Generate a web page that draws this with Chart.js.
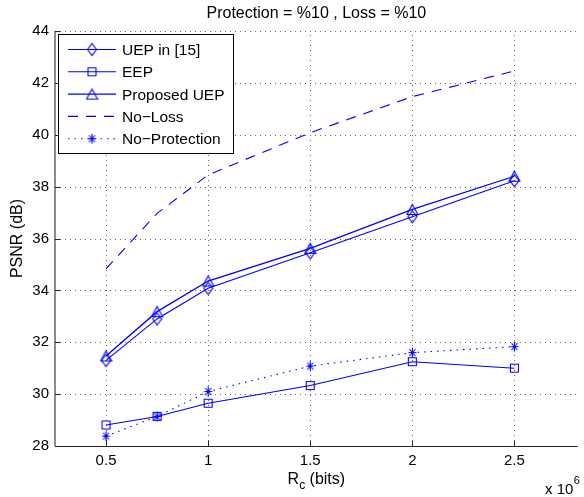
<!DOCTYPE html>
<html>
<head>
<meta charset="utf-8">
<title>PSNR vs Rc</title>
<script src="https://cdn.jsdelivr.net/npm/chart.js@4.4.1/dist/chart.umd.min.js"></script>
<style>
    html, body { margin: 0; padding: 0; background: #fff; }
    #wrap { position: relative; width: 584px; height: 497px; }
</style>
</head>
<body>
<div id="wrap"><canvas id="psnrChart" width="584" height="497"></canvas></div>
<script>
// Rc in units of 10^6 bits
var rcValues = [0.5, 0.75, 1, 1.5, 2, 2.5];

// PSNR (dB) per scheme
var uepRef15     = [31.30, 32.90, 34.08, 35.45, 36.84, 38.23];
var eep          = [28.81, 29.14, 29.65, 30.33, 31.25, 31.00];
var proposedUep  = [31.47, 33.18, 34.36, 35.62, 37.12, 38.40];
var noLoss       = [34.83, 36.97, 38.45, 40.08, 41.47, 42.46];
var noProtection = [28.38, 29.14, 30.10, 31.08, 31.60, 31.83];

var xTickValues = [0.5, 1, 1.5, 2, 2.5];
var yTickValues = [28, 30, 32, 34, 36, 38, 40, 42, 44];

var BLUE = '#0000ff';
var FONT = '"Liberation Sans", Arial, Helvetica, sans-serif';

// Small canvases used as point styles (matlab-like markers)
function makeMarker(kind) {
    var c = document.createElement('canvas');
    var ctx;
    if (kind === 'diamond') {
        c.width = 11; c.height = 15;
        ctx = c.getContext('2d');
        ctx.beginPath();
        ctx.moveTo(5.5, 1.5); ctx.lineTo(10, 7.5); ctx.lineTo(5.5, 13.5); ctx.lineTo(1, 7.5);
        ctx.closePath();
    } else if (kind === 'square') {
        c.width = 11; c.height = 11;
        ctx = c.getContext('2d');
        ctx.beginPath();
        ctx.rect(1.5, 1.5, 8, 8);
    } else if (kind === 'triangle') {
        c.width = 13; c.height = 13;
        ctx = c.getContext('2d');
        ctx.beginPath();
        ctx.moveTo(6.5, 1.5); ctx.lineTo(12, 11.5); ctx.lineTo(1, 11.5);
        ctx.closePath();
    } else {
        c.width = 11; c.height = 13;
        ctx = c.getContext('2d');
        ctx.beginPath();
        ctx.moveTo(1.5, 6.5); ctx.lineTo(9.5, 6.5);
        ctx.moveTo(5.5, 1.5); ctx.lineTo(5.5, 11.5);
        ctx.moveTo(2.5, 3); ctx.lineTo(8.5, 10);
        ctx.moveTo(8.5, 3); ctx.lineTo(2.5, 10);
    }
    ctx.strokeStyle = BLUE;
    ctx.lineWidth = 1.1;
    ctx.stroke();
    return c;
}

var markers = {
    diamond: makeMarker('diamond'),
    square: makeMarker('square'),
    triangle: makeMarker('triangle'),
    star: makeMarker('star')
};

function toPoints(values) {
    return rcValues.map(function(x, i) {
        return { x: x, y: values[i] };
    });
}

// Dotted grid, axes, tick marks and the text around the plot
var matlabFrame = {
    id: 'matlabFrame',
    beforeDatasetsDraw: function(chart) {
        var ctx = chart.ctx;
        var area = chart.chartArea;
        var xs = chart.scales.x;
        var ys = chart.scales.y;
        ctx.save();
        ctx.strokeStyle = '#666';
        ctx.lineWidth = 1;
        ctx.setLineDash([1, 4]);
        xTickValues.forEach(function(v) {
            var px = Math.round(xs.getPixelForValue(v)) + 0.5;
            ctx.beginPath();
            ctx.moveTo(px, area.bottom);
            ctx.lineTo(px, area.top);
            ctx.stroke();
        });
        yTickValues.forEach(function(v) {
            var py = Math.round(ys.getPixelForValue(v)) + 0.5;
            ctx.beginPath();
            ctx.moveTo(area.left, py);
            ctx.lineTo(area.right, py);
            ctx.stroke();
        });
        ctx.restore();
    },
    afterDatasetsDraw: function(chart) {
        var ctx = chart.ctx;
        var area = chart.chartArea;
        var xs = chart.scales.x;
        var ys = chart.scales.y;
        ctx.save();
        ctx.setLineDash([]);
        // axis lines
        ctx.strokeStyle = '#666';
        ctx.lineWidth = 1.5;
        ctx.beginPath();
        ctx.moveTo(area.left, area.top);
        ctx.lineTo(area.left, area.bottom);
        ctx.stroke();
        ctx.strokeStyle = '#222';
        ctx.lineWidth = 1;
        ctx.beginPath();
        ctx.moveTo(area.left, Math.round(area.bottom) + 0.5);
        ctx.lineTo(area.right, Math.round(area.bottom) + 0.5);
        ctx.stroke();
        // inward tick marks
        ctx.strokeStyle = '#222';
        ctx.beginPath();
        yTickValues.forEach(function(v) {
            var py = Math.round(ys.getPixelForValue(v)) + 0.5;
            ctx.moveTo(area.left, py);
            ctx.lineTo(area.left + 5, py);
        });
        xTickValues.forEach(function(v) {
            var px = Math.round(xs.getPixelForValue(v)) + 0.5;
            ctx.moveTo(px, area.bottom);
            ctx.lineTo(px, area.bottom - 5);
        });
        ctx.stroke();
        ctx.restore();
    },
    afterDraw: function(chart) {
        var ctx = chart.ctx;
        var area = chart.chartArea;
        var midX = (area.left + area.right) / 2;
        var midY = (area.top + area.bottom) / 2;
        ctx.save();
        ctx.fillStyle = '#000';
        ctx.textBaseline = 'alphabetic';

        // title
        ctx.font = '16px ' + FONT;
        ctx.textAlign = 'center';
        ctx.fillText('Protection = %10 , Loss = %10', midX, 18);

        // x axis label with subscript
        var big = '16px ' + FONT;
        var small = '12px ' + FONT;
        ctx.font = big;
        var wR = ctx.measureText('R').width;
        var wRest = ctx.measureText(' (bits)').width;
        ctx.font = small;
        var wC = ctx.measureText('c').width;
        var startX = midX - (wR + wC + wRest) / 2;
        ctx.textAlign = 'left';
        ctx.font = big;
        ctx.fillText('R', startX, 484);
        ctx.font = small;
        ctx.fillText('c', startX + wR, 489);
        ctx.font = big;
        ctx.fillText(' (bits)', startX + wR + wC, 484);

        // exponent of the x axis
        ctx.font = '15px ' + FONT;
        ctx.fillText('x 10', 545, 494);
        var w10 = ctx.measureText('x 10').width;
        ctx.font = '11px ' + FONT;
        ctx.fillText('6', 545 + w10 + 0.5, 483.5);

        // y axis label
        ctx.font = '16px ' + FONT;
        ctx.translate(22, midY);
        ctx.rotate(-Math.PI / 2);
        ctx.textAlign = 'center';
        ctx.fillText('PSNR (dB)', 0, 0);
        ctx.restore();

        // legend
        ctx.save();
        ctx.fillStyle = '#fff';
        ctx.fillRect(58.5, 34.5, 175, 119);
        ctx.strokeStyle = '#000';
        ctx.lineWidth = 1;
        ctx.strokeRect(58.5, 34.5, 175, 119);
        chart.data.datasets.forEach(function(ds, i) {
            var cy = 49.5 + i * 22.3;
            ctx.strokeStyle = ds.borderColor;
            ctx.lineWidth = ds.borderWidth;
            ctx.setLineDash(ds.borderDash || []);
            ctx.beginPath();
            ctx.moveTo(68, cy);
            ctx.lineTo(116, cy);
            ctx.stroke();
            if (ds.pointStyle instanceof HTMLCanvasElement) {
                var m = ds.pointStyle;
                ctx.drawImage(m, 92 - m.width / 2, cy - m.height / 2);
            }
            ctx.fillStyle = '#000';
            ctx.font = '15.5px ' + FONT;
            ctx.textAlign = 'left';
            ctx.textBaseline = 'alphabetic';
            ctx.fillText(ds.label, 122, cy + 5.5);
        });
        ctx.restore();
    }
};

var ctx = document.getElementById('psnrChart');
new Chart(ctx, {
    type: 'line',
    data: {
        datasets: [{
            label: 'UEP in [15]',
            data: toPoints(uepRef15),
            borderColor: BLUE,
            borderWidth: 1.1,
            pointStyle: markers.diamond
        }, {
            label: 'EEP',
            data: toPoints(eep),
            borderColor: BLUE,
            borderWidth: 1.1,
            pointStyle: markers.square
        }, {
            label: 'Proposed UEP',
            data: toPoints(proposedUep),
            borderColor: BLUE,
            borderWidth: 1.3,
            pointStyle: markers.triangle
        }, {
            label: 'No\u2212Loss',
            data: toPoints(noLoss),
            borderColor: BLUE,
            borderWidth: 1.1,
            borderDash: [10, 8],
            pointRadius: 0
        }, {
            label: 'No\u2212Protection',
            data: toPoints(noProtection),
            borderColor: BLUE,
            borderWidth: 1.1,
            borderDash: [1.5, 5],
            pointStyle: markers.star
        }]
    },
    options: {
        responsive: false,
        animation: false,
        devicePixelRatio: 1,
        layout: { padding: { top: 31, right: 0, bottom: 0, left: 0 } },
        elements: {
            line: { tension: 0, fill: false },
            point: { radius: 5, hoverRadius: 5 }
        },
        plugins: {
            legend: { display: false },
            title: { display: false },
            tooltip: { enabled: false }
        },
        scales: {
            x: {
                type: 'linear',
                min: 0.25,
                max: 2.81,
                grid: { display: false, drawTicks: false },
                border: { display: false },
                afterBuildTicks: function(scale) {
                    scale.ticks = xTickValues.map(function(v) { return { value: v }; });
                },
                afterFit: function(scale) { scale.height = 51; },
                ticks: {
                    color: '#000',
                    font: { family: FONT, size: 15 },
                    padding: 6,
                    maxRotation: 0,
                    callback: function(v) { return String(v); }
                }
            },
            y: {
                type: 'linear',
                min: 28,
                max: 44,
                grid: { display: false, drawTicks: false },
                border: { display: false },
                afterBuildTicks: function(scale) {
                    scale.ticks = yTickValues.map(function(v) { return { value: v }; });
                },
                afterFit: function(scale) { scale.width = 55; },
                ticks: {
                    color: '#000',
                    font: { family: FONT, size: 15 },
                    padding: 6,
                    callback: function(v) { return String(v); }
                }
            }
        }
    },
    plugins: [matlabFrame]
});
</script>
</body>
</html>
